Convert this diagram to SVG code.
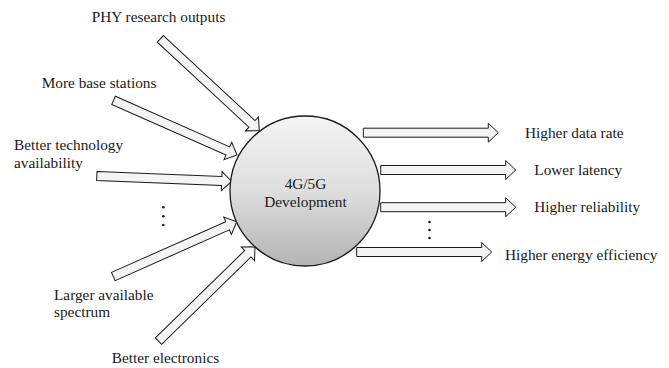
<svg xmlns="http://www.w3.org/2000/svg" xmlns:xlink="http://www.w3.org/1999/xlink" width="669" height="368" viewBox="0 0 669 368">
<style>
  text { font-family: 'Liberation Serif', 'Times New Roman', Times, serif; font-size: 15.3px; fill: #1a1a1a; }
  .ctr { text-anchor: middle; }
  .arr { fill: #f4f4f4; stroke: #1a1a1a; stroke-width: 1; stroke-linejoin: miter; }
  .dot { fill: #1a1a1a; }
</style>
<defs>
  <linearGradient id="ballGrad" x1="0" y1="0" x2="0" y2="1">
    <stop offset="0" stop-color="#f4f4f4"/>
    <stop offset="0.5" stop-color="#dedede"/>
    <stop offset="1" stop-color="#b3b3b3"/>
  </linearGradient>
  <path id="blockArrow" d="M-135,-4.5 L-10,-4.5 L-10,-9.5 L0,0 L-10,9.5 L-10,4.5 L-135,4.5 Z"/>
</defs>
<rect width="669" height="368" fill="#ffffff"/>

<g id="connectors">
  <use xlink:href="#blockArrow" class="arr" transform="translate(259.3,130.7) rotate(42.86)"/>
  <use xlink:href="#blockArrow" class="arr" transform="translate(237,155) rotate(23.9)"/>
  <use xlink:href="#blockArrow" class="arr" transform="translate(231.7,181.5) rotate(2.33)"/>
  <use xlink:href="#blockArrow" class="arr" transform="translate(236.7,221.7) rotate(-23.95)"/>
  <use xlink:href="#blockArrow" class="arr" transform="translate(255,246.7) rotate(-44.37)"/>
  <use xlink:href="#blockArrow" class="arr" transform="translate(498.3,132.7)"/>
  <use xlink:href="#blockArrow" class="arr" transform="translate(515.7,170)"/>
  <use xlink:href="#blockArrow" class="arr" transform="translate(515.7,207.2)"/>
  <use xlink:href="#blockArrow" class="arr" transform="translate(491.7,252)"/>
</g>

<g id="center-node">
  <circle cx="305" cy="191" r="75" fill="url(#ballGrad)" stroke="#1a1a1a" stroke-width="1.3"/>
  <text class="ctr" x="305.5" y="189.3" font-family="Liberation Serif, serif">4G/5G</text>
  <text class="ctr" x="305.5" y="207.3" font-family="Liberation Serif, serif">Development</text>
</g>

<g id="in-phy"><text x="91.7" y="21.5" font-family="Liberation Serif, serif">PHY research outputs</text></g>
<g id="in-bs"><text x="41.7" y="87.5" font-family="Liberation Serif, serif">More base stations</text></g>
<g id="in-tech">
  <text x="14" y="150" font-family="Liberation Serif, serif">Better technology</text>
  <text x="14" y="167.5" font-family="Liberation Serif, serif">availability</text>
</g>
<g id="in-spectrum">
  <text x="54" y="300" font-family="Liberation Serif, serif">Larger available</text>
  <text x="54" y="317" font-family="Liberation Serif, serif">spectrum</text>
</g>
<g id="in-electronics"><text x="111.7" y="363.3" font-family="Liberation Serif, serif">Better electronics</text></g>

<g id="out-rate"><text x="525" y="137.7" font-family="Liberation Serif, serif">Higher data rate</text></g>
<g id="out-latency"><text x="534.3" y="175" font-family="Liberation Serif, serif">Lower latency</text></g>
<g id="out-reliability"><text x="534.3" y="211.7" font-family="Liberation Serif, serif">Higher reliability</text></g>
<g id="out-energy"><text x="505" y="260" font-family="Liberation Serif, serif">Higher energy efficiency</text></g>

<g id="ellipsis-left">
  <circle class="dot" cx="163.3" cy="207.3" r="1.3"/>
  <circle class="dot" cx="163.3" cy="216.3" r="1.3"/>
  <circle class="dot" cx="163.3" cy="225" r="1.3"/>
</g>
<g id="ellipsis-right">
  <circle class="dot" cx="429.5" cy="222" r="1.3"/>
  <circle class="dot" cx="429.5" cy="230" r="1.3"/>
  <circle class="dot" cx="429.5" cy="238" r="1.3"/>
</g>
</svg>
